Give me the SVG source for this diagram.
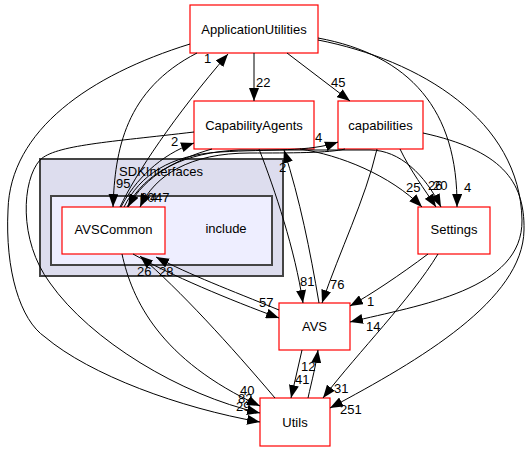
<svg xmlns="http://www.w3.org/2000/svg" width="529" height="452" viewBox="0 0 529 452">
<style>
text{font-family:"Liberation Sans",Arial,Helvetica,sans-serif;font-size:13px;fill:#000}
.n rect{fill:#fff;stroke:#ff0000;stroke-width:1.2}
.n text{text-anchor:middle}
.e path{fill:none;stroke:#000;stroke-width:1;marker-end:url(#a)}
.c1{fill:#ddddee;stroke:#444;stroke-width:2}
.c2{fill:#eeeeff;stroke:#444;stroke-width:2}
</style>
<defs>
<marker id="a" markerUnits="userSpaceOnUse" markerWidth="13" markerHeight="10" viewBox="0 0 13 10" refX="13" refY="5" orient="auto"><path d="M0,0L13,5L0,10z" fill="#000"/></marker>
</defs>
<g id="cluster_SDKInterfaces">
<rect class="c1" x="40" y="159" width="243" height="117"/>
<text x="161" y="176" text-anchor="middle">SDKInterfaces</text>
</g>
<g id="cluster_include">
<rect class="c2" x="51" y="196" width="221" height="69"/>
<text x="226" y="233" text-anchor="middle">include</text>
</g>
<g id="node_ApplicationUtilities" class="n"><rect x="190" y="5" width="128" height="48"/><text x="254" y="33.5">ApplicationUtilities</text></g>
<g id="node_CapabilityAgents" class="n"><rect x="194" y="101" width="120" height="48"/><text x="254" y="130">CapabilityAgents</text></g>
<g id="node_capabilities" class="n"><rect x="338" y="101" width="85" height="48"/><text x="380.5" y="130">capabilities</text></g>
<g id="node_AVSCommon" class="n"><rect x="62" y="207" width="103" height="47"/><text x="113.5" y="233.5">AVSCommon</text></g>
<g id="node_Settings" class="n"><rect x="418" y="207" width="72" height="47"/><text x="454" y="233.5">Settings</text></g>
<g id="node_AVS" class="n"><rect x="279" y="303" width="71" height="47"/><text x="314.5" y="330.5">AVS</text></g>
<g id="node_Utils" class="n"><rect x="260" y="398" width="70" height="48"/><text x="295" y="426.5">Utils</text></g>
<g id="edges" class="e">
<path d="M254,53L254,101"/><text x="256" y="87">22</text>
<path d="M287,53L350,101"/><text x="331" y="87">45</text>
<path d="M120,207C135,175 175,115 228,54"/><text x="204" y="63">1</text>
<path d="M197,53C125,90 115,150 113,207"/><text x="116" y="188">95</text>
<path d="M190,44C90,75 10,130 8,210C5,270 20,320 45,337C90,375 180,408 260,422"/><text x="236" y="411">29</text>
<path d="M194,132C110,142 55,145 40,160C22,180 18,240 50,283C90,340 180,395 260,413"/><text x="238" y="403">82</text>
<path d="M122,254C132,300 160,360 260,406"/><text x="240" y="395">40</text>
<path d="M275,398C230,345 180,290 140,256"/><text x="137" y="276">26</text>
<path d="M279,310C230,290 190,275 156,257"/><text x="159" y="276">28</text>
<path d="M133,254C170,275 230,300 279,318"/><text x="259" y="307">57</text>
<path d="M302,350L291,398"/><text x="295" y="384">41</text>
<path d="M308,398C312,380 316,365 318,350"/><text x="301" y="371">12</text>
<path d="M428,254C400,275 370,295 350,306"/><text x="367" y="306">1</text>
<path d="M438,254C410,300 360,350 323,398"/><text x="334" y="393">31</text>
<path d="M318,38C410,55 458,110 457,207"/><text x="464" y="192">4</text>
<path d="M318,40C420,60 520,120 522,220C523,290 420,305 350,322"/><text x="366" y="331">14</text>
<path d="M423,133C500,150 525,180 524,230C523,300 420,360 330,408"/><text x="340" y="414">251</text>
<path d="M377,149C365,200 340,250 322,303"/><text x="330" y="289">76</text>
<path d="M259,149C275,190 295,250 303,303"/><text x="300" y="286">81</text>
<path d="M319,303C310,250 300,200 284,150"/><text x="279" y="172">2</text>
<path d="M121,207C135,180 160,155 194,143"/><text x="171" y="146">2</text>
<path d="M124,207C140,175 170,155 220,152C270,149 310,152 338,142"/><text x="315" y="142">4</text>
<path d="M127,207C145,172 185,152 240,150L370,150C400,150 425,175 441,207"/><text x="433" y="190">20</text>
<path d="M300,149C340,155 390,175 422,207"/><text x="406" y="192">25</text>
<path d="M400,149C410,170 425,190 436,207"/><text x="428" y="190">26</text>
<path d="M212,149C180,158 145,175 128,207"/><text x="140" y="202">60</text>
<path d="M345,149C330,153 290,153 250,153C190,153 155,175 140,207"/><text x="150" y="202">4</text><text x="155" y="202">47</text>
</g>
</svg>
